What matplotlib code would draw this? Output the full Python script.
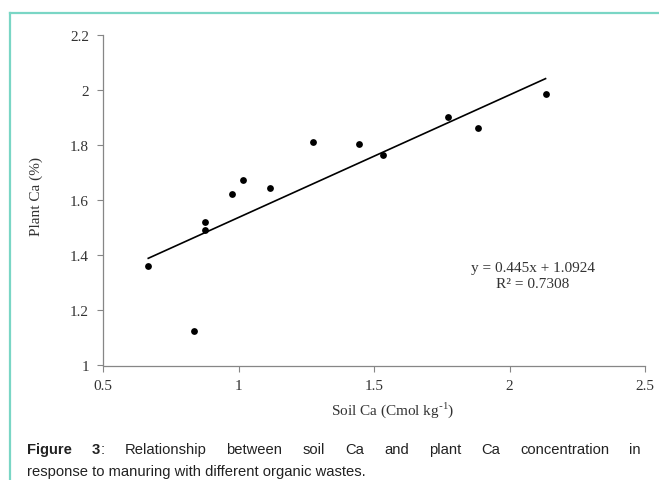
import matplotlib
matplotlib.use('Agg')
import matplotlib.pyplot as plt
from matplotlib.lines import Line2D
import numpy as np

# data
soil_ca = [0.667, 0.837, 0.876, 0.876, 0.977, 1.015, 1.115, 1.276, 1.443, 1.532, 1.772, 1.882, 2.133]
plant_ca = [1.361, 1.125, 1.520, 1.492, 1.623, 1.673, 1.643, 1.812, 1.804, 1.765, 1.903, 1.862, 1.985]
slope = 0.445
intercept = 1.0924
r2 = 0.7308
x_ticks = [0.5, 1, 1.5, 2, 2.5]
x_tick_labels = ['0.5', '1', '1.5', '2', '2.5']
y_ticks = [1, 1.2, 1.4, 1.6, 1.8, 2, 2.2]
y_tick_labels = ['1', '1.2', '1.4', '1.6', '1.8', '2', '2.2']

CAPTION_1 = [[('Figure', 'bold')], [('3', 'bold'), (':', 'normal')], 'Relationship', 'between',
             'soil', 'Ca', 'and', 'plant', 'Ca', 'concentration', 'in']
CAPTION_2 = 'response to manuring with different organic wastes.'

W, H = 659, 481
fig = plt.figure(figsize=(W / 100, H / 100), dpi=100)
fig.patch.set_facecolor('white')

# teal frame (top + left)
teal = '#7ad6c5'
fig.add_artist(Line2D([10 / W, 1], [1 - 14 / H, 1 - 14 / H], color=teal, lw=1.6,
                      transform=fig.transFigure))
fig.add_artist(Line2D([10 / W, 10 / W], [0, 1 - 14 / H], color=teal, lw=1.6,
                      transform=fig.transFigure))

ax = fig.add_axes([103 / W, 1 - 366.5 / H, (645 - 103) / W, (366.5 - 36) / H])
serif = 'Liberation Serif'
txt_col = '#333333'
fs = 11

ax.scatter(soil_ca, plant_ca, s=24, color='black', zorder=3, linewidths=0)
xl = np.array([min(soil_ca), max(soil_ca)])
ax.plot(xl, slope * xl + intercept, color='black', lw=1.2, zorder=2)

ax.set_xlim(0.5, 2.5)
ax.set_ylim(1, 2.2)
ax.set_xticks(x_ticks)
ax.set_xticklabels(x_tick_labels, fontfamily=serif, fontsize=fs, color=txt_col)
ax.set_yticks(y_ticks)
ax.set_yticklabels(y_tick_labels, fontfamily=serif, fontsize=fs, color=txt_col)
ax.tick_params(direction='out', length=4, width=0.8, color='#868686', pad=6)
for s in ['top', 'right']:
    ax.spines[s].set_visible(False)
for s in ['left', 'bottom']:
    ax.spines[s].set_color('#868686')
    ax.spines[s].set_linewidth(0.9)

fig.text(36 / W, 1 - 197 / H, 'Plant Ca (%)', rotation=90, ha='center', va='center',
         fontfamily=serif, fontsize=fs, color=txt_col)
fig.text(393 / W, 1 - 410 / H, 'Soil Ca (Cmol kg$^{\\mathregular{\\text{-}1}}$)', ha='center',
         va='center', fontfamily=serif, fontsize=fs, color=txt_col)

ax.text(533 / W, 1 - 269 / H, f'y = {slope}x + {intercept}', transform=fig.transFigure,
        ha='center', va='center', fontfamily=serif, fontsize=fs, color=txt_col)
ax.text(533 / W, 1 - 285 / H, 'R² = ' + f'{r2}', transform=fig.transFigure,
        ha='center', va='center', fontfamily=serif, fontsize=fs, color=txt_col)

# caption, first line justified
sans = 'Liberation Sans'
cap_size = 10.6
cap_col = '#222222'
renderer = fig.canvas.get_renderer()


def word_width(segs):
    w = 0
    for t, wt in segs:
        tt = fig.text(0, 0, t, fontfamily=sans, fontsize=cap_size, fontweight=wt)
        w += tt.get_window_extent(renderer).width
        tt.remove()
    return w


words = [w if isinstance(w, list) else [(w, 'normal')] for w in CAPTION_1]
widths = [word_width(w) for w in words]
left, right = 27, 641
gap = (right - left - sum(widths)) / (len(words) - 1)
x = left
y1 = 1 - 450 / H
for segs, wd in zip(words, widths):
    xx = x
    for t, wt in segs:
        tt = fig.text(xx / W, y1, t, fontfamily=sans, fontsize=cap_size, fontweight=wt,
                      va='center', ha='left', color=cap_col)
        xx += tt.get_window_extent(renderer).width
    x += wd + gap

fig.text(left / W, 1 - 472 / H, CAPTION_2, fontfamily=sans, fontsize=cap_size,
         va='center', ha='left', color=cap_col)

fig.savefig('out.png', dpi=100)
